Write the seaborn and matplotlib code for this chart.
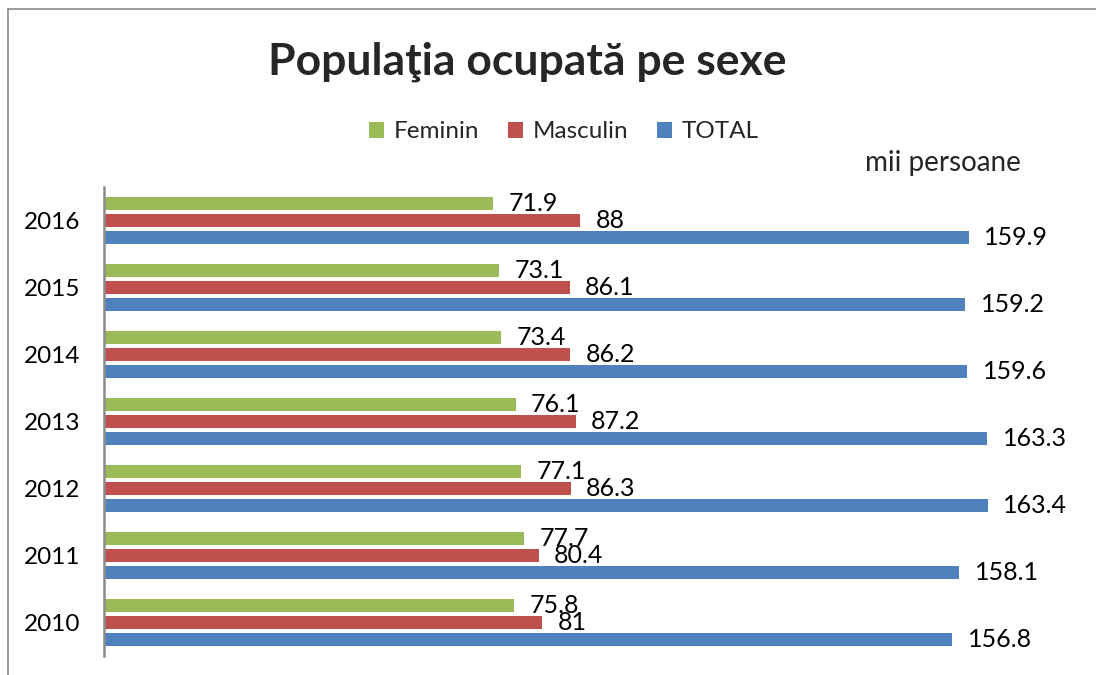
import matplotlib
matplotlib.use("Agg")
import matplotlib.pyplot as plt
import seaborn as sns
import pandas as pd
from matplotlib.lines import Line2D

# Employed population by sex, thousands of persons
years = ["2016", "2015", "2014", "2013", "2012", "2011", "2010"]
feminin = [71.9, 73.1, 73.4, 76.1, 77.1, 77.7, 75.8]
masculin = [88, 86.1, 86.2, 87.2, 86.3, 80.4, 81]
total = [159.9, 159.2, 159.6, 163.3, 163.4, 158.1, 156.8]
series = ["Feminin", "Masculin", "TOTAL"]
colors = ["#9BBB59", "#C0504D", "#4F81BD"]

df = pd.DataFrame({
    "An": years * 3,
    "Serie": [s for s in series for _ in years],
    "Valoare": feminin + masculin + total,
})

sns.set_theme(style="white")
plt.rcParams["font.family"] = ["Lato", "DejaVu Sans"]

W, H = 1096, 675
fig = plt.figure(figsize=(W / 100, H / 100), dpi=100)
ax = fig.add_axes([104 / W, 19 / H, 180 * 5.41 / W, 469 / H])

sns.barplot(
    data=df, y="An", x="Valoare", hue="Serie",
    order=years, hue_order=series, palette=colors, saturation=1, orient="h",
    width=0.75, gap=0.2, linewidth=0, ax=ax,
)

ax.set_xlim(0, 180)
ax.set_xlabel("")
ax.set_ylabel("")
ax.set_xticks([])
ax.tick_params(axis="y", length=0, pad=17, labelsize=17.5, labelcolor="#000000")
for side in ["top", "right", "bottom"]:
    ax.spines[side].set_visible(False)
ax.spines["left"].set_color("#8c8c8c")
ax.spines["left"].set_linewidth(1.8)

# Value labels after each bar
for cont in ax.containers:
    ax.bar_label(cont, fmt="{:g}", padding=11, fontsize=18, color="#000000")

# Legend across the top
sns.move_legend(
    ax, "center", bbox_to_anchor=(564 / W, 1 - 132 / H),
    bbox_transform=fig.transFigure, ncol=3, frameon=False, title=None,
    fontsize=17.5, handlelength=0.6, handleheight=0.6, handletextpad=0.4,
    columnspacing=1.2,
)

fig.text(527 / W, 1 - 62 / H, "Populaţia ocupată pe sexe",
         ha="center", va="center", fontsize=32, fontweight="bold")
fig.text(943 / W, 1 - 163 / H, "mii persoane",
         ha="center", va="center", fontsize=20)

# Chart area frame
fig.add_artist(Line2D([8 / W, 8 / W], [0, 1 - 9 / H], transform=fig.transFigure,
                      color="#8c8c8c", lw=1.2))
fig.add_artist(Line2D([8 / W, 1], [1 - 9 / H, 1 - 9 / H], transform=fig.transFigure,
                      color="#8c8c8c", lw=1.2))

fig.savefig("out.png", dpi=100)
